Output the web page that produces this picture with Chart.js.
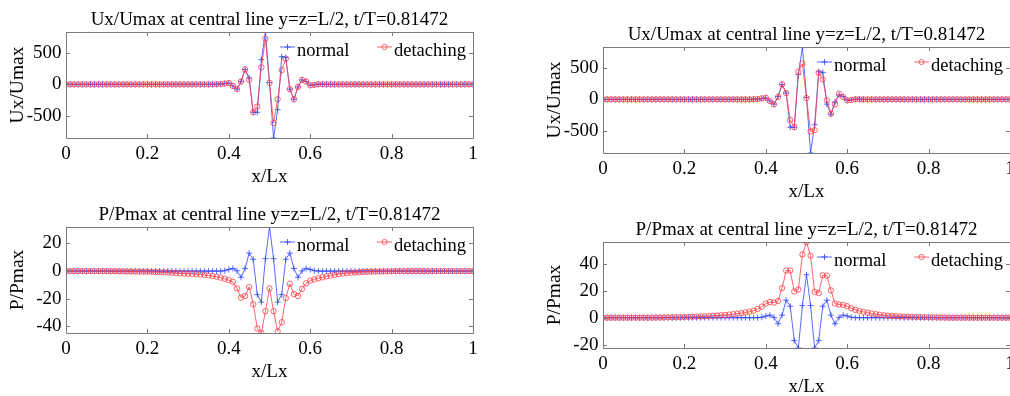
<!DOCTYPE html>
<html>
<head>
<meta charset="utf-8">
<script src="https://cdn.jsdelivr.net/npm/chart.js@4.4.1/dist/chart.umd.min.js"></script>
<style>
  html, body { margin: 0; padding: 0; background: #fff; }
  #fig { position: relative; width: 1010px; height: 396px; overflow: hidden; background: #fff; }
  #fig canvas { position: absolute; }
</style>
</head>
<body>
<div id="fig">
  <canvas id="uxLeft" width="503" height="190" style="left:0px;top:0px"></canvas>
  <canvas id="pLeft" width="503" height="190" style="left:0px;top:195px"></canvas>
  <canvas id="uxRight" width="503" height="190" style="left:537px;top:15px"></canvas>
  <canvas id="pRight" width="503" height="190" style="left:537px;top:210px"></canvas>
</div>
<script>
// sample positions along the central line (x/Lx)
const xPos = [
  0, 0.01, 0.02, 0.03, 0.04, 0.05, 0.06, 0.07, 0.08, 0.09,
  0.1, 0.11, 0.12, 0.13, 0.14, 0.15, 0.16, 0.17, 0.18, 0.19,
  0.2, 0.21, 0.22, 0.23, 0.24, 0.25, 0.26, 0.27, 0.28, 0.29,
  0.3, 0.31, 0.32, 0.33, 0.34, 0.35, 0.36, 0.37, 0.38, 0.39,
  0.4, 0.41, 0.42, 0.43, 0.44, 0.45, 0.46, 0.47, 0.48, 0.49,
  0.5, 0.51, 0.52, 0.53, 0.54, 0.55, 0.56, 0.57, 0.58, 0.59,
  0.6, 0.61, 0.62, 0.63, 0.64, 0.65, 0.66, 0.67, 0.68, 0.69,
  0.7, 0.71, 0.72, 0.73, 0.74, 0.75, 0.76, 0.77, 0.78, 0.79,
  0.8, 0.81, 0.82, 0.83, 0.84, 0.85, 0.86, 0.87, 0.88, 0.89,
  0.9, 0.91, 0.92, 0.93, 0.94, 0.95, 0.96, 0.97, 0.98, 0.99,
  1
];

const xTicks = [0, 0.2, 0.4, 0.6, 0.8, 1];
const uxTicks = [-500, 0, 500];
const pLeftTicks = [-40, -20, 0, 20];
const pRightTicks = [-20, 0, 20, 40];

// Ux/Umax
const uxNormal = [
  0, 0, 0, 0, 0, 0, 0, 0, 0, 0,
  0, 0, 0, 0, 0, 0, 0, 0, 0, 0,
  0, 0, 0, 0, 0, 0, 0, 0, 0, 0,
  0, 0, 0, 0, 0, 0, 0, 2, 5, 12,
  22, -25, -75, 45, 235, 100, -440, -440, 390, 825,
  30, -845, -400, 435, 425, -75, -235, -40, 70, 45,
  -15, -8, 3, 2, 0, 0, 0, 0, 0, 0,
  0, 0, 0, 0, 0, 0, 0, 0, 0, 0,
  0, 0, 0, 0, 0, 0, 0, 0, 0, 0,
  0, 0, 0, 0, 0, 0, 0, 0, 0, 0,
  0
];
const uxDetachLeft = [
  0, 0, 0, 0, 0, 0, 0, 0, 0, 0,
  0, 0, 0, 0, 0, 0, 0, 0, 0, 0,
  0, 0, 0, 0, 0, 0, 0, 0, 0, 0,
  0, 0, 0, 0, 0, 0, 0, 2, 5, 12,
  22, -25, -75, 45, 235, 70, -440, -350, 270, 720,
  25, -610, -235, 225, 405, -75, -235, -40, 70, 45,
  -15, -8, 3, 2, 0, 0, 0, 0, 0, 0,
  0, 0, 0, 0, 0, 0, 0, 0, 0, 0,
  0, 0, 0, 0, 0, 0, 0, 0, 0, 0,
  0, 0, 0, 0, 0, 0, 0, 0, 0, 0,
  0
];
const uxDetachRight = [
  0, 0, 0, 0, 0, 0, 0, 0, 0, 0,
  0, 0, 0, 0, 0, 0, 0, 0, 0, 0,
  0, 0, 0, 0, 0, 0, 0, 0, 0, 0,
  0, 0, 0, 0, 0, 0, 0, 2, 5, 16,
  26, -26, -79, 37, 237, 100, -325, -437, 435, 563,
  21, -505, -485, 421, 316, -16, -226, -79, 89, 37,
  -16, -10, 3, 2, 0, 0, 0, 0, 0, 0,
  0, 0, 0, 0, 0, 0, 0, 0, 0, 0,
  0, 0, 0, 0, 0, 0, 0, 0, 0, 0,
  0, 0, 0, 0, 0, 0, 0, 0, 0, 0,
  0
];

// P/Pmax
const pNormal = [
  0, 0, 0, 0, 0, 0, 0, 0, 0, 0,
  0, 0, 0, 0, 0, 0, 0, 0, 0, 0,
  0, 0, 0, 0, 0, 0, 0, 0, 0, 0,
  0, 0, 0, 0, 0, 0, 0, 0, 0, 0.3,
  1.2, 1.9, 0.2, -4.5, 1.9, 13, 8.5, -17, -22.5, 9,
  31.9, 9, -22.5, -17, 8.5, 13, 1.9, -4.5, 0.2, 1.9,
  1.2, 0.3, 0, 0, 0, 0, 0, 0, 0, 0,
  0, 0, 0, 0, 0, 0, 0, 0, 0, 0,
  0, 0, 0, 0, 0, 0, 0, 0, 0, 0,
  0, 0, 0, 0, 0, 0, 0, 0, 0, 0,
  0
];
const pDetachLeft = [
  0, 0, 0, 0, 0, 0, 0, 0, 0, 0,
  0, -0.1, -0.1, -0.1, -0.2, -0.2, -0.3, -0.3, -0.4, -0.4,
  -0.5, -0.6, -0.7, -0.8, -0.9, -1.0, -1.2, -1.4, -1.6, -1.8,
  -1.9, -2.1, -2.3, -2.5, -2.8, -3.2, -3.6, -4.1, -4.7, -5.6,
  -6.6, -7.8, -12.5, -19.2, -18, -11.5, -24, -41.5, -44.8, -29,
  -12.5, -29, -43.5, -37, -19.5, -9.2, -16.6, -18, -12.8, -8.8,
  -6.9, -6.0, -5.2, -4.5, -3.8, -3.2, -2.7, -2.2, -1.8, -1.5,
  -1.2, -1.0, -0.8, -0.6, -0.5, -0.4, -0.3, -0.3, -0.2, -0.2,
  -0.1, -0.1, 0, 0, 0, 0, 0, 0, 0, 0,
  0, 0, 0, 0, 0, 0, 0, 0, 0, 0,
  0
];
const pDetachRight = [
  0, 0, 0, 0, 0, 0, 0, 0, 0, 0,
  0, 0, 0, 0.1, 0.1, 0.2, 0.2, 0.3, 0.3, 0.4,
  0.5, 0.6, 0.7, 0.8, 0.9, 1.0, 1.2, 1.4, 1.6, 1.8,
  2.0, 2.3, 2.6, 3.0, 3.4, 3.9, 4.5, 5.2, 6.5, 8.2,
  10.5, 11.7, 11.2, 12.5, 22, 35, 35, 19.5, 21, 47,
  56.2, 46, 19.2, 18.3, 31.5, 31.2, 20.3, 10.5, 9.8, 9.5,
  8.5, 7.0, 5.8, 5.0, 4.3, 3.7, 3.1, 2.6, 2.2, 1.8,
  1.5, 1.3, 1.1, 0.9, 0.8, 0.7, 0.6, 0.5, 0.4, 0.35,
  0.3, 0.25, 0.2, 0.15, 0.1, 0, 0, 0, 0, 0,
  0, 0, 0, 0, 0, 0, 0, 0, 0, 0,
  0
];

const BLUE = '#2f45ff';
const RED = '#ff3c46';
const SERIF = "'Liberation Serif', 'Times New Roman', serif";

Chart.defaults.font.family = SERIF;
Chart.defaults.color = '#000';

// matlab style box: grey frame with inward ticks on all four sides
const boxPlugin = {
  id: 'matlabBox',
  afterDatasetsDraw(chart) {
    const ctx = chart.ctx, a = chart.chartArea;
    const xs = chart.scales.x, ys = chart.scales.y;
    const len = 4;
    ctx.save();
    ctx.strokeStyle = '#7a7a7a';
    ctx.lineWidth = 1;
    ctx.beginPath();
    ctx.rect(Math.round(a.left) + 0.5, Math.round(a.top) + 0.5, Math.round(a.width), Math.round(a.height));
    xs.ticks.forEach(function (t) {
      const px = Math.round(xs.getPixelForValue(t.value)) + 0.5;
      ctx.moveTo(px, a.bottom); ctx.lineTo(px, a.bottom - len);
      ctx.moveTo(px, a.top); ctx.lineTo(px, a.top + len);
    });
    ys.ticks.forEach(function (t) {
      const py = Math.round(ys.getPixelForValue(t.value)) + 0.5;
      ctx.moveTo(a.left, py); ctx.lineTo(a.left + len, py);
      ctx.moveTo(a.right, py); ctx.lineTo(a.right - len, py);
    });
    ctx.stroke();
    ctx.restore();
  }
};

// legend without box, placed inside the axes like the original
const legendPlugin = {
  id: 'insideLegend',
  afterDraw(chart) {
    const ctx = chart.ctx, a = chart.chartArea;
    const spots = [214, 311];
    ctx.save();
    ctx.font = '18.5px ' + SERIF;
    ctx.textBaseline = 'alphabetic';
    ctx.fillStyle = '#000';
    chart.data.datasets.forEach(function (ds, i) {
      const x0 = a.left + spots[i], y0 = a.top + 15;
      ctx.strokeStyle = ds.borderColor;
      ctx.lineWidth = 0.8;
      ctx.beginPath();
      ctx.moveTo(x0, y0); ctx.lineTo(x0 + 15, y0);
      const cx = x0 + 7.5;
      if (ds.pointStyle === 'cross') {
        ctx.moveTo(cx - 3, y0); ctx.lineTo(cx + 3, y0);
        ctx.moveTo(cx, y0 - 3); ctx.lineTo(cx, y0 + 3);
        ctx.stroke();
      } else {
        ctx.stroke();
        ctx.beginPath();
        ctx.arc(cx, y0, 2.6, 0, Math.PI * 2);
        ctx.stroke();
      }
      ctx.fillText(ds.label, x0 + 17, a.top + 23.5);
    });
    ctx.restore();
  }
};

function points(ys) {
  return xPos.map(function (x, i) { return { x: x, y: ys[i] }; });
}

function makePanel(id, title, yTitle, normal, detach, yTicks) {
  const all = normal.concat(detach);
  return new Chart(document.getElementById(id), {
    type: 'line',
    data: {
      datasets: [
        {
          label: 'normal',
          data: points(normal),
          borderColor: BLUE,
          borderWidth: 0.8,
          pointStyle: 'cross',
          pointRadius: 3,
          pointBorderColor: BLUE,
          pointBorderWidth: 0.8,
          tension: 0,
          order: 2
        },
        {
          label: 'detaching',
          data: points(detach),
          borderColor: RED,
          borderWidth: 0.8,
          pointStyle: 'circle',
          pointRadius: 2.7,
          pointBackgroundColor: 'rgba(0,0,0,0)',
          pointBorderColor: RED,
          pointBorderWidth: 0.8,
          tension: 0,
          order: 1
        }
      ]
    },
    options: {
      responsive: false,
      animation: false,
      events: [],
      layout: { padding: { left: 0, right: 30, top: 0, bottom: 0 } },
      plugins: {
        legend: { display: false },
        tooltip: { enabled: false },
        title: {
          display: true,
          text: title,
          fullSize: false,
          color: '#000',
          font: { size: 19, weight: 'normal', family: SERIF },
          padding: { top: 9, bottom: 0.2 }
        }
      },
      scales: {
        x: {
          type: 'linear',
          min: 0,
          max: 1,
          afterBuildTicks: function (s) { s.ticks = xTicks.map(function (v) { return { value: v }; }); },
          afterFit: function (s) { s.height = 52; },
          grid: { display: false, drawTicks: false },
          border: { display: false },
          ticks: {
            padding: 5,
            maxRotation: 0,
            autoSkip: false,
            font: { size: 19 },
            callback: function (v) { return String(v); }
          },
          title: {
            display: true,
            text: 'x/Lx',
            font: { size: 19 },
            padding: { top: 0, bottom: 1.5 }
          }
        },
        y: {
          type: 'linear',
          min: Math.min.apply(null, all),
          max: Math.max.apply(null, all),
          afterBuildTicks: function (s) { s.ticks = yTicks.map(function (v) { return { value: v }; }); },
          afterFit: function (s) { s.width = 66; },
          grid: { display: false, drawTicks: false },
          border: { display: false },
          ticks: {
            padding: 4.5,
            autoSkip: false,
            font: { size: 19 },
            callback: function (v) { return String(v); }
          },
          title: {
            display: true,
            text: yTitle,
            font: { size: 19.5 },
            padding: { top: 6.3, bottom: 0 }
          }
        }
      }
    },
    plugins: [boxPlugin, legendPlugin]
  });
}

const uxTitle = 'Ux/Umax at central line y=z=L/2, t/T=0.81472';
const pTitle = 'P/Pmax at central line y=z=L/2, t/T=0.81472';

makePanel('uxLeft', uxTitle, 'Ux/Umax', uxNormal, uxDetachLeft, uxTicks);
makePanel('pLeft', pTitle, 'P/Pmax', pNormal, pDetachLeft, pLeftTicks);
makePanel('uxRight', uxTitle, 'Ux/Umax', uxNormal, uxDetachRight, uxTicks);
makePanel('pRight', pTitle, 'P/Pmax', pNormal, pDetachRight, pRightTicks);
</script>
</body>
</html>
